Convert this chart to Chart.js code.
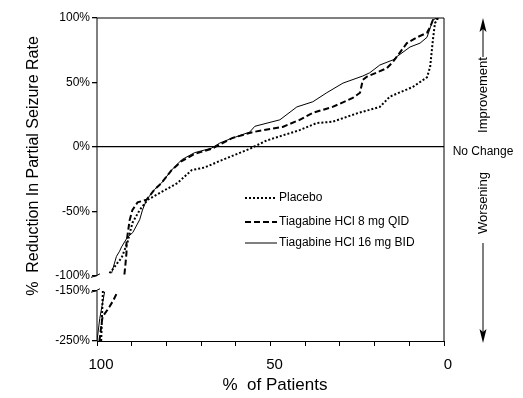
<!DOCTYPE html>
<html>
<head>
<meta charset="utf-8">
<script src="https://cdn.jsdelivr.net/npm/chart.js@4/dist/chart.umd.min.js"></script>
<style>
  html, body { margin: 0; padding: 0; background: #fff; }
  #grafico { display: block; }
</style>
</head>
<body>
<canvas id="grafico" width="523" height="398"></canvas>
<script>
// data: % of patients (x) vs % reduction (y)
// null splits the part below the axis break from the part above it
const placeboPct = [98.8, 98.6, 98.3, null, 96.4, 95.2, 94.1, 92.9, 91.2, 89.8, 87.7, 85.4, 81.4, 76.8, 72.7, 69, 63.8, 56, 51.1, 41.6, 36.7, 32.1, 25.1, 18.5, 15.6, 9, 4.9, 4, 3.2, 2.6, 1.7];
const placeboRed = [-250, -210, -150, null, -98, -94, -90, -86, -74, -59, -49, -41, -35, -28, -18, -16, -10, -1.5, 5, 13, 18.5, 19.5, 26, 31, 39, 46.5, 54, 62, 83, 96, 100];

const qidPct = [99.3, 98.8, 98.4, 96.4, 95.2, 94.1, null, 92.1, 91.8, 91.5, 91.5, 90.6, 89.8, 88.3, 85.7, 83.4, 81.4, 78.5, 75.6, 71.9, 67, 60.9, 55.1, 46.5, 41.6, 37.8, 32.1, 26.3, 24.2, 23.4, 22.2, 16.5, 14.7, 10.7, 7.8, 4.9, 4, 3.2, 1.7];
const qidRed = [-250, -222, -202, -182, -168, -152, null, -99, -91, -82, -74, -57, -49, -43, -41, -33, -28, -18, -11, -5.5, -1.5, 7, 11.5, 15.5, 21, 26.5, 31, 38, 42, 52, 54.5, 61, 66, 80.5, 85, 88.5, 93, 98.5, 100];

const bidPct = [100, 99.2, 97.8, null, 95.8, 94.4, 93.5, 92.9, 91.2, 89.7, 87.7, 86.9, 85.7, 83.4, 81.4, 78.5, 75.6, 71.9, 67, 64.6, 61.8, 56, 54.5, 47.3, 42.4, 37.8, 33.8, 29.1, 23.4, 21.4, 18.5, 14.7, 13.6, 9.8, 6.9, 4.9, 3.2, 2];
const bidRed = [-250, -205, -152, null, -98, -85, -81, -77.5, -70, -66.5, -56.5, -49, -41, -33, -28, -18, -10, -4.5, -1, 3, 6, 11.5, 16, 21, 31, 35, 42, 49.5, 55, 57.5, 63.5, 67.5, 70, 77.5, 80.5, 85, 98.5, 100];

const seriesNames = ["Placebo", "Tiagabine HCl 8 mg QID", "Tiagabine HCl 16 mg BID"];
const yTickVals = [-250, -150, -100, -50, 0, 50, 100];
const yTickLabels = ["-250%", "-150%", "-100%", "-50%", "0%", "50%", "100%"];
const xTickLabels = [100, 50, 0];

const FONT = '"Liberation Sans", Arial, Helvetica, sans-serif';

// broken y axis: -100..100 normal, gap, then -150..-250 squeezed
const GAP = 11.6;
const LOW_K = 0.39;
function toAxis(v) {
  if (v === null) return null;
  if (v >= -100) return v;
  return -100 - GAP - (-150 - v) * LOW_K;
}

function pts(xs, ys) {
  return xs.map((x, i) => ({ x: x, y: toAxis(ys[i]) }));
}

const styles = [
  { borderDash: [2, 2], borderWidth: 2 },
  { borderDash: [6, 3], borderWidth: 2 },
  { borderDash: [], borderWidth: 1 }
];

const extras = {
  id: "extras",
  afterDraw(chart) {
    const c = chart.ctx;
    const a = chart.chartArea;
    const ys = chart.scales.y;
    c.save();
    c.strokeStyle = "#000";
    c.fillStyle = "#000";
    c.lineWidth = 1;

    // frame: top, right, left with break
    const yBrTop = ys.getPixelForValue(toAxis(-100));
    const yBrBot = ys.getPixelForValue(toAxis(-150));
    c.beginPath();
    c.moveTo(a.left, a.bottom);
    c.lineTo(a.left, yBrBot);
    c.moveTo(a.left, yBrTop);
    c.lineTo(a.left, a.top);
    c.lineTo(a.right, a.top);
    c.lineTo(a.right, a.bottom);
    c.stroke();
    // break marks
    [yBrTop, yBrBot].forEach(y => {
      c.beginPath();
      c.moveTo(a.left - 6, y + 1.5);
      c.quadraticCurveTo(a.left - 2, y + 1, a.left + 3, y - 2);
      c.stroke();
    });

    // axis titles
    c.font = "16px " + FONT;
    c.textAlign = "center";
    c.textBaseline = "middle";
    c.save();
    c.translate(34, 166);
    c.rotate(-Math.PI / 2);
    c.fillText("%  Reduction In Partial Seizure Rate", 0, 0);
    c.restore();
    c.font = "17px " + FONT;
    c.fillText("%  of Patients", 275, 385);

    // legend
    const legY = [198, 222, 243];
    c.font = "12px " + FONT;
    c.textAlign = "left";
    legY.forEach((y, i) => {
      c.save();
      c.lineWidth = styles[i].borderWidth;
      c.setLineDash(styles[i].borderDash);
      c.beginPath();
      c.moveTo(245, y);
      c.lineTo(277, y);
      c.stroke();
      c.restore();
      c.fillText(seriesNames[i], 279, y);
    });

    // right side notes
    const ax = 483;
    c.textAlign = "center";
    c.font = "13px " + FONT;
    c.save();
    c.translate(ax, 95);
    c.rotate(-Math.PI / 2);
    c.fillText("Improvement", 0, 0);
    c.restore();
    c.save();
    c.translate(ax, 203);
    c.rotate(-Math.PI / 2);
    c.fillText("Worsening", 0, 0);
    c.restore();
    c.font = "12px " + FONT;
    c.fillText("No Change", ax, 152);

    c.beginPath();
    c.moveTo(ax, 57);
    c.lineTo(ax, 26);
    c.moveTo(ax, 243);
    c.lineTo(ax, 336);
    c.stroke();
    // arrow heads
    c.beginPath();
    c.moveTo(ax, 18);
    c.lineTo(ax + 3.5, 32);
    c.lineTo(ax, 29);
    c.lineTo(ax - 3.5, 32);
    c.closePath();
    c.fill();
    c.beginPath();
    c.moveTo(ax, 343);
    c.lineTo(ax + 3.5, 329);
    c.lineTo(ax, 332);
    c.lineTo(ax - 3.5, 329);
    c.closePath();
    c.fill();
    c.restore();
  }
};

const ctx = document.getElementById("grafico").getContext("2d");
new Chart(ctx, {
  type: "line",
  data: {
    datasets: [
      { label: seriesNames[0], data: pts(placeboPct, placeboRed) },
      { label: seriesNames[1], data: pts(qidPct, qidRed) },
      { label: seriesNames[2], data: pts(bidPct, bidRed) }
    ].map((d, i) => Object.assign(d, styles[i], {
      borderColor: "#000",
      pointRadius: 0,
      tension: 0,
      fill: false,
      spanGaps: false
    }))
  },
  options: {
    animation: false,
    responsive: false,
    layout: { padding: { left: 0, right: 79, top: 18, bottom: 0 } },
    plugins: { legend: { display: false }, tooltip: { enabled: false } },
    scales: {
      x: {
        type: "linear",
        reverse: true,
        min: 0,
        max: 100,
        afterFit: (axis) => { axis.height = 57; },
        ticks: {
          stepSize: 10,
          autoSkip: false,
          maxRotation: 0,
          padding: 10,
          labelOffset: 4,
          color: "#000",
          font: { family: FONT, size: 15 },
          callback: (v) => xTickLabels.includes(v) ? String(v) : ""
        },
        grid: { drawOnChartArea: false, tickLength: 5, tickColor: "#000" },
        border: { color: "#000", width: 1 }
      },
      y: {
        type: "linear",
        min: toAxis(-250),
        max: 100,
        afterFit: (axis) => { axis.width = 97; },
        afterBuildTicks: (axis) => {
          axis.ticks = yTickVals.map(v => ({ value: toAxis(v) }));
        },
        ticks: {
          padding: 2,
          color: "#000",
          font: { family: FONT, size: 12 },
          callback: (v, i) => yTickLabels[i]
        },
        grid: {
          tickLength: 5,
          tickColor: "#000",
          lineWidth: 1.3,
          color: (c) => (c.tick && c.tick.value === 0) ? "#000" : "rgba(0,0,0,0)"
        },
        border: { display: false }
      }
    }
  },
  plugins: [extras]
});
</script>
</body>
</html>
